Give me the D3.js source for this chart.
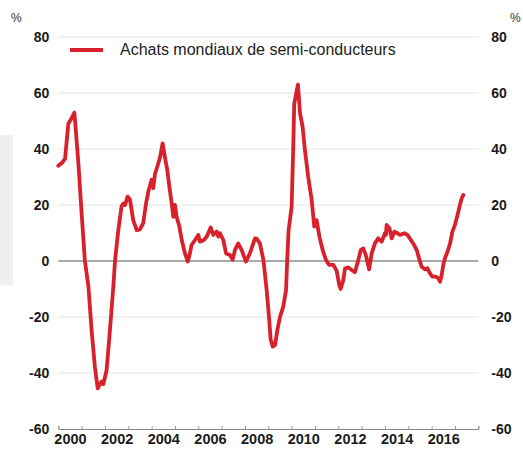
<!DOCTYPE html>
<html lang="fr">
<head>
<meta charset="utf-8">
<script src="https://d3js.org/d3.v7.min.js"></script>
<style>
  * { margin: 0; padding: 0; }
  body { background: #fff; width: 523px; height: 450px; overflow: hidden; }
  svg text { font-family: "Liberation Sans", Arial, sans-serif; }
</style>
</head>
<body>
<div id="chart"></div>
<script>
// dates en années décimales, valeurs en % (glissement annuel)
var dates = [
  2000.00, 2000.15, 2000.29, 2000.43, 2000.57, 2000.69, 2000.86,
  2001.00, 2001.14, 2001.29, 2001.43, 2001.57, 2001.69, 2001.78, 2001.86, 2001.93,
  2002.07, 2002.21, 2002.36, 2002.43, 2002.57, 2002.71, 2002.79, 2002.86, 2002.97,
  2003.07, 2003.21, 2003.36, 2003.50, 2003.64, 2003.76, 2003.86,
  2004.00, 2004.07, 2004.14, 2004.29, 2004.36, 2004.47, 2004.57, 2004.67, 2004.76, 2004.86, 2004.93,
  2005.00, 2005.07, 2005.19, 2005.29, 2005.43, 2005.55, 2005.64, 2005.71, 2005.86,
  2006.00, 2006.07, 2006.24, 2006.36, 2006.53, 2006.64, 2006.79, 2006.86, 2006.93,
  2007.07, 2007.19, 2007.36, 2007.47, 2007.57, 2007.71, 2007.86,
  2008.04, 2008.21, 2008.43, 2008.50, 2008.64, 2008.79, 2008.93,
  2009.03, 2009.10, 2009.19, 2009.29, 2009.39, 2009.50, 2009.64, 2009.76, 2009.81, 2009.87,
  2010.00, 2010.07, 2010.11, 2010.21, 2010.27, 2010.36, 2010.47, 2010.57, 2010.71, 2010.86, 2010.97,
  2011.07, 2011.19, 2011.33, 2011.47, 2011.61, 2011.79, 2011.93,
  2012.04, 2012.10, 2012.21, 2012.29, 2012.43, 2012.57, 2012.71, 2012.86, 2012.96,
  2013.07, 2013.18, 2013.32, 2013.43, 2013.57, 2013.71, 2013.86,
  2014.00, 2014.04, 2014.07, 2014.19, 2014.29, 2014.40, 2014.54, 2014.64, 2014.83, 2014.97,
  2015.11, 2015.25, 2015.36, 2015.46, 2015.57, 2015.71, 2015.82, 2015.93,
  2016.03, 2016.17, 2016.29, 2016.36, 2016.43, 2016.50, 2016.57, 2016.68, 2016.79, 2016.89,
  2017.00, 2017.11, 2017.21, 2017.29, 2017.36
];
var achats = [
  34, 35, 36.5, 49, 51, 53, 35,
  17, 0, -9, -25, -38, -45.5, -44, -43, -44,
  -39, -25, -9, 0, 11, 19.5, 20.5, 20, 23,
  22, 14.6, 11, 11.3, 13.5, 20.6, 24.8,
  29, 26, 31, 35, 37, 42, 37, 32.5, 26.5, 20.6, 15.8,
  20, 15.8, 12.3, 7.5, 2.7, -0.2, 2.7, 5.7, 7.5,
  9.3, 6.9, 7.5, 8.7, 12, 9.3, 10.5, 8.7, 9.9,
  7.5, 2.7, 2.1, 0.4, 3.9, 6.3, 3.9,
  -0.2, 2.7, 8.1, 8, 6.3, 0.4, -10.4,
  -20, -28, -30.6, -30, -24.6, -20, -16.3, -10.4, 0.4, 11,
  19.4, 40.8, 56, 60.5, 63, 52.7, 48, 39.6, 30, 21.8, 12.3,
  14.6, 8.7, 3.9, 0.4, -1.4, -1.4, -3.5,
  -8.5, -10, -7, -2.6, -2.3, -3.2, -4, 0.4, 3.9,
  4.5, 2.1, -3, 2.7, 6.3, 8.1, 6.9,
  9.9, 9.3, 12.9, 11.7, 8.1, 10.5, 9.9, 9.3, 9.9, 9.3,
  7.5, 5.7, 3.9, 1, -2, -3, -2.6, -4.4,
  -5.6, -5.6, -6.2, -7.4, -5, -1.4, 1, 3.3, 6.3, 10.5,
  12.9, 16.4, 20, 22.4, 23.6
];
var yTicks = [-60, -40, -20, 0, 20, 40, 60, 80];
var yearTicks = d3.range(2000, 2019);
var yearLabels = [2000, 2002, 2004, 2006, 2008, 2010, 2012, 2014, 2016];
var serieNom = "Achats mondiaux de semi-conducteurs";

var width = 523, height = 450;
var rouge = "#d9212c";

var svg = d3.select("#chart").append("svg")
  .attr("width", width)
  .attr("height", height);

// bande grise à gauche (bord de page)
svg.append("rect")
  .attr("x", 0).attr("y", 135).attr("width", 13).attr("height", 150)
  .attr("fill", "#efefef");

var x = d3.scaleLinear().domain([2000, 2018]).range([58.3, 478.3]);
var y = d3.scaleLinear().domain([-60, 80]).range([429, 37]);

// grille
svg.append("g")
  .selectAll("line")
  .data(yTicks.filter(function(d){ return d !== 0 && d !== -60; }))
  .enter().append("line")
  .attr("x1", x(2000)).attr("x2", x(2018))
  .attr("y1", function(d){ return y(d); })
  .attr("y2", function(d){ return y(d); })
  .attr("stroke", "#e4e4e4")
  .attr("stroke-width", 1);

// axes gauche / droite (labels seulement)
var fmt = function(d){ return String(d); };
var yl = svg.append("g")
  .attr("transform", "translate(" + x(2000) + ",0)")
  .call(d3.axisLeft(y).tickValues(yTicks).tickSize(0).tickPadding(9).tickFormat(fmt));
var yr = svg.append("g")
  .attr("transform", "translate(" + x(2018) + ",0)")
  .call(d3.axisRight(y).tickValues(yTicks).tickSize(0).tickPadding(13).tickFormat(fmt));
[yl, yr].forEach(function(g){
  g.select(".domain").remove();
  g.selectAll("text")
    .attr("fill", "#1a1a1a")
    .style("font-size", "14px")
    .style("font-weight", "bold");
});

// ligne zéro
svg.append("line")
  .attr("x1", x(2000)).attr("x2", x(2018))
  .attr("y1", y(0)).attr("y2", y(0))
  .attr("stroke", "#555")
  .attr("stroke-width", 1.2);

// axe du bas
var xb = svg.append("g")
  .attr("transform", "translate(0," + y(-60) + ")")
  .call(d3.axisBottom(x).tickValues(yearTicks).tickSize(-3).tickFormat(""));
xb.select(".domain").attr("stroke", "#888");
xb.selectAll(".tick line").attr("stroke", "#999");

var xl = svg.append("g")
  .attr("transform", "translate(0," + y(-60) + ")")
  .call(d3.axisBottom(x)
    .tickValues(yearLabels.map(function(d){ return d + 0.5; }))
    .tickSize(0).tickPadding(5)
    .tickFormat(function(d){ return String(Math.floor(d)); }));
xl.select(".domain").remove();
xl.selectAll("text")
  .attr("fill", "#1a1a1a")
  .style("font-size", "14.5px")
  .style("font-weight", "bold");

// unités
svg.append("text").attr("x", 11).attr("y", 22).text("%")
  .style("font-size", "12px").attr("fill", "#333");
svg.append("text").attr("x", 510).attr("y", 22).text("%")
  .style("font-size", "12px").attr("fill", "#333");

// série
var pts = dates.map(function(d, i){ return [d, achats[i]]; });
var line = d3.line()
  .x(function(d){ return x(d[0]); })
  .y(function(d){ return y(d[1]); });

svg.append("path")
  .datum(pts)
  .attr("d", line)
  .attr("fill", "none")
  .attr("stroke", rouge)
  .attr("stroke-width", 3.8)
  .attr("stroke-linejoin", "round")
  .attr("stroke-linecap", "round");

// légende
svg.append("line")
  .attr("x1", 70).attr("x2", 103)
  .attr("y1", 50).attr("y2", 50)
  .attr("stroke", rouge).attr("stroke-width", 4);
svg.append("text")
  .attr("x", 120).attr("y", 55)
  .text(serieNom)
  .style("font-size", "16px")
  .attr("fill", "#222");
</script>
</body>
</html>
